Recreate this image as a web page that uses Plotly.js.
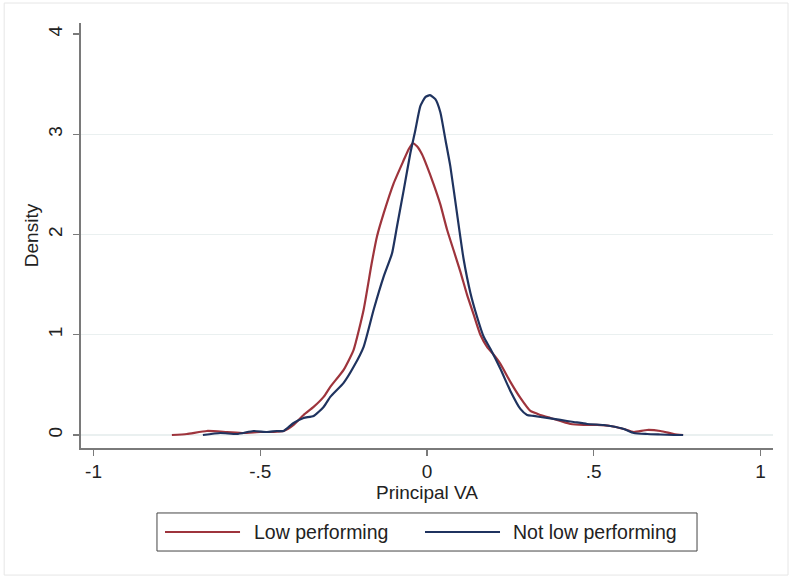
<!DOCTYPE html>
<html>
<head>
<meta charset="utf-8">
<script src="https://cdn.plot.ly/plotly-3.0.1.min.js"></script>
<style>
html,body{margin:0;padding:0;background:#fff;}
#chart{width:793px;height:578px;}
</style>
</head>
<body>
<div id="chart"></div>
<script>
// Low performing
var lowX = [-0.765,-0.72,-0.66,-0.60,-0.55,-0.50,-0.46,-0.43,-0.40,-0.37,-0.34,-0.31,-0.29,-0.25,-0.22,-0.19,-0.166,-0.15,-0.13,-0.10,-0.07,-0.055,-0.043,-0.03,-0.015,0.0,0.02,0.04,0.06,0.08,0.10,0.12,0.14,0.16,0.18,0.20,0.22,0.25,0.28,0.31,0.34,0.37,0.40,0.43,0.47,0.51,0.55,0.59,0.62,0.66,0.70,0.74,0.768];
var lowY = [0.00,0.01,0.04,0.03,0.02,0.03,0.03,0.04,0.10,0.20,0.28,0.38,0.48,0.65,0.85,1.25,1.71,1.98,2.21,2.51,2.74,2.85,2.91,2.88,2.80,2.68,2.50,2.30,2.05,1.84,1.63,1.40,1.20,1.00,0.88,0.80,0.71,0.53,0.37,0.24,0.20,0.17,0.14,0.11,0.10,0.10,0.09,0.06,0.03,0.05,0.04,0.01,0.00];
// Not low performing
var notX = [-0.672,-0.62,-0.57,-0.52,-0.48,-0.45,-0.43,-0.40,-0.37,-0.34,-0.31,-0.29,-0.25,-0.22,-0.19,-0.16,-0.13,-0.105,-0.09,-0.07,-0.05,-0.035,-0.02,-0.005,0.009,0.025,0.04,0.055,0.07,0.09,0.11,0.13,0.15,0.17,0.19,0.22,0.25,0.28,0.30,0.32,0.36,0.40,0.44,0.48,0.53,0.55,0.59,0.62,0.66,0.70,0.74,0.768];
var notY = [0.00,0.02,0.01,0.04,0.03,0.04,0.04,0.12,0.17,0.19,0.28,0.38,0.52,0.68,0.88,1.25,1.58,1.81,2.08,2.44,2.81,3.04,3.28,3.37,3.39,3.35,3.22,2.95,2.68,2.21,1.75,1.42,1.18,0.98,0.86,0.66,0.44,0.26,0.20,0.19,0.17,0.15,0.13,0.11,0.10,0.09,0.06,0.02,0.01,0.005,0.00,0.00];

var seriesNames = ["Low performing","Not low performing"];
var seriesColors = ["#9e343c","#1f335f"];
var xTickVals = [-1,-0.5,0,0.5,1];
var xTickText = ["-1","-.5","0",".5","1"];
var yTickVals = [0,1,2,3,4];
var yGridVals = [0,1,2,3];

var traces = [
  {x: lowX, y: lowY, type:'scatter', mode:'lines', name:seriesNames[0], showlegend:false,
   line:{color:seriesColors[0], width:2.2, shape:'spline', smoothing:0.5}},
  {x: notX, y: notY, type:'scatter', mode:'lines', name:seriesNames[1], showlegend:false,
   line:{color:seriesColors[1], width:2.2, shape:'spline', smoothing:0.5}},
  {x:[null], y:[null], yaxis:'y2', showlegend:false, hoverinfo:'skip'}
];

var tc = '#222';
var fs = 19;
var lfs = 19.5;
var fam = 'Liberation Sans, Arial, sans-serif';

// custom legend (Stata style box with long line keys)
var legY = -0.1976;
var legendShapes = [
  {type:'rect', xref:'paper', yref:'paper', x0:0.1098, x1:0.8902, y0:-0.2424, y1:-0.1529,
   line:{color:'#444', width:1}, fillcolor:'#fff'},
  {type:'line', xref:'paper', yref:'paper', x0:0.1214, x1:0.2298, y0:legY, y1:legY,
   line:{color:seriesColors[0], width:2.2}},
  {type:'line', xref:'paper', yref:'paper', x0:0.4971, x1:0.6055, y0:legY, y1:legY,
   line:{color:seriesColors[1], width:2.2}}
];
var legendAnn = [
  {xref:'paper', yref:'paper', x:0.2471, y:legY, xanchor:'left', yanchor:'middle',
   text:seriesNames[0], showarrow:false, font:{family:fam, size:lfs, color:tc}},
  {xref:'paper', yref:'paper', x:0.6214, y:legY, xanchor:'left', yanchor:'middle',
   text:seriesNames[1], showarrow:false, font:{family:fam, size:lfs, color:tc}}
];

var layout = {
  width:793, height:578,
  margin:{l:81, r:20, t:23, b:130},
  paper_bgcolor:'#ffffff', plot_bgcolor:'#ffffff',
  font:{family:fam, color:tc, size:fs},
  showlegend:false,
  xaxis:{
    range:[-1.0375,1.0375], tickvals:xTickVals, ticktext:xTickText,
    showgrid:false, zeroline:false, showline:true, linecolor:'#7a7a7a', linewidth:1.6,
    ticks:'outside', ticklen:6, tickcolor:'#7a7a7a', tickwidth:1.3,
    tickfont:{size:fs, color:tc},
    title:{text:'Principal VA', font:{size:fs, color:tc}, standoff:0}
  },
  yaxis:{
    range:[-0.1297,4.1097], tickvals:yTickVals, ticktext:yTickVals.map(String),
    showgrid:false, zeroline:false, showline:true, linecolor:'#7a7a7a', linewidth:1.6,
    ticks:'outside', ticklen:6, tickcolor:'#7a7a7a', tickwidth:1.3,
    tickangle:-90, tickfont:{size:fs, color:tc}, ticklabelstandoff:4,
    title:{text:'Density', font:{size:fs, color:tc}, standoff:1}
  },
  yaxis2:{
    overlaying:'y', range:[-0.1297,4.1097], tickvals:yGridVals,
    showticklabels:false, showgrid:true, gridcolor:'#eaf0f0', gridwidth:1.2,
    zeroline:false, showline:false, ticks:''
  },
  shapes:[
    {type:'rect', xref:'paper', yref:'paper', x0:-0.111, x1:1.0217, y0:-0.299, y1:1.047,
     line:{color:'#e6e6e6', width:1}, fillcolor:'rgba(0,0,0,0)', layer:'below'}
  ].concat(legendShapes),
  annotations: legendAnn
};

Plotly.newPlot('chart', traces, layout, {displayModeBar:false, staticPlot:true});
</script>
</body>
</html>
